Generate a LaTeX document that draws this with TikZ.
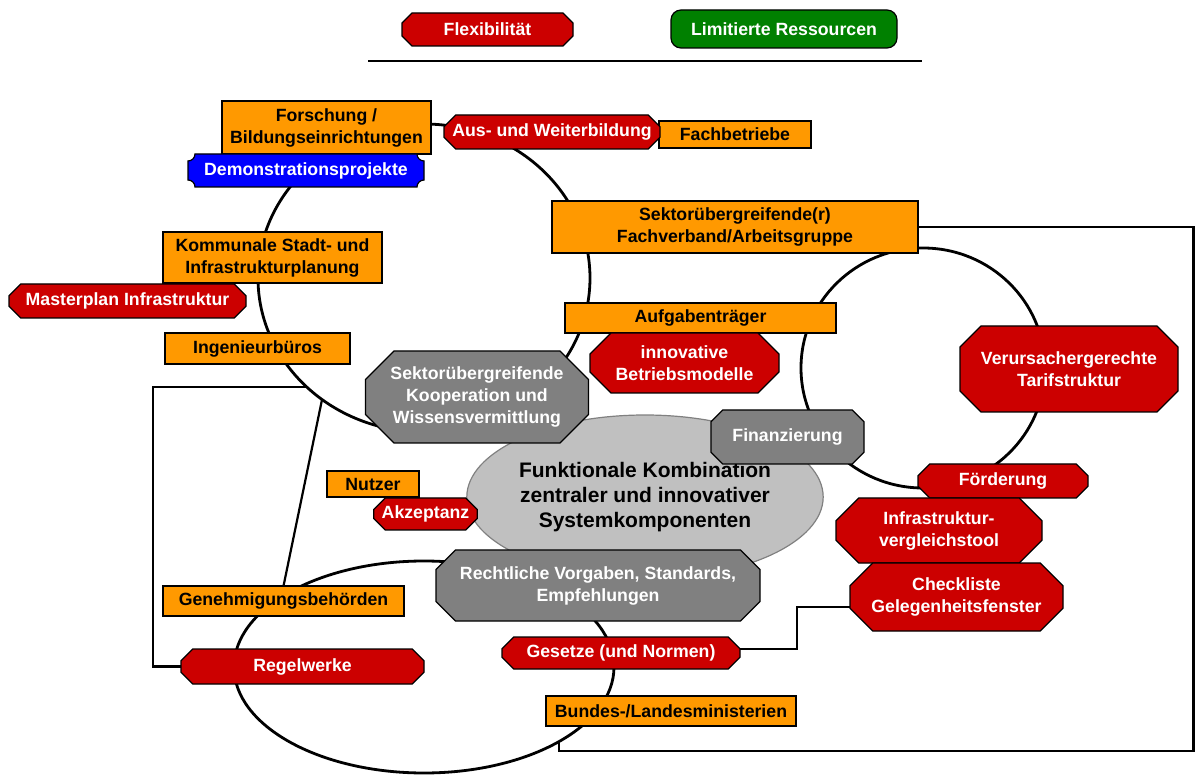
\documentclass[tikz,border=0pt]{standalone}
\usepackage{fontspec}
\setmainfont{Liberation Sans}
\usetikzlibrary{shapes.misc,shapes.geometric,calc}
\definecolor{cred}{HTML}{CC0000}
\definecolor{corange}{HTML}{FF9900}
\definecolor{cblue}{HTML}{0000FF}
\definecolor{cgreen}{HTML}{008000}
\definecolor{cgray}{HTML}{808080}
\definecolor{clight}{HTML}{C0C0C0}
\pgfdeclarelayer{bg}
\pgfsetlayers{bg,main}
\tikzset{
  lbl/.style={font=\fontsize{17.7}{22}\selectfont\bfseries, align=center, inner sep=0pt, outer sep=0pt},
  obox/.style={lbl, rectangle, draw=black, line width=1.2pt, fill=corange, text=black},
  oct/.style={lbl, chamfered rectangle, chamfered rectangle xsep=#1, draw=black, line width=1.2pt},
  redoct/.style={oct=#1, fill=cred, text=white},
  grayoct/.style={oct=#1, fill=cgray, text=white},
  ring/.style={ellipse, draw=black, line width=2.8pt, inner sep=0pt, outer sep=0pt},
  link/.style={draw=black, line width=2.2pt},
  sz/.style 2 args={minimum width=#1pt, minimum height=#2pt},
}
\begin{document}
\begin{tikzpicture}[x=1pt,y=-1pt]
\useasboundingbox (0,0) rectangle (1195,775);

% legend
\node[redoct=9pt, sz={171}{33}] (flex) at (487.5,29.5) {Flexibilität};
\node[lbl, rectangle, rounded corners=10pt, draw=black, line width=1.2pt, fill=cgreen, text=white, sz={226}{38}] (limres) at (784,29) {Limitierte Ressourcen};
\coordinate (ll) at (368,61);
\coordinate (lr) at (922,61);
\draw[link] (ll) -- (lr);

% central ellipse
\node[ellipse, draw=cgray, line width=1.2pt, fill=clight, inner sep=0pt, sz={356}{164},
      font=\fontsize{21}{25}\selectfont\bfseries, align=center] (core) at (645,497)
      {Funktionale Kombination\\zentraler und innovativer\\Systemkomponenten};

% orange boxes and other nodes
\node[obox, sz={209}{53}] (forsch) at (326.5,127.5) {Forschung /\\Bildungseinrichtungen};
\node[obox, sz={152}{27}] (fachb) at (735,134.5) {Fachbetriebe};
\node[redoct=9pt, sz={216}{34}] (ausw) at (552,132) {Aus- und Weiterbildung};
\node[obox, sz={366}{52}] (sektor) at (735,227) {Sektorübergreifende(r)\\Fachverband/Arbeitsgruppe};
\node[obox, sz={219}{51}] (kommunal) at (272.5,257.5) {Kommunale Stadt- und\\Infrastrukturplanung};
\node[redoct=9pt, sz={237}{34}] (master) at (127.5,301) {Masterplan Infrastruktur};
\node[obox, sz={271}{30}] (aufg) at (700.5,318) {Aufgabenträger};
\node[obox, sz={185}{31}] (ingen) at (257.5,348.5) {Ingenieurbüros};
\node[redoct=18pt, sz={189}{60}] (innov) at (684.5,363) {innovative\\Betriebsmodelle};
\node[redoct=25pt, sz={218}{86}] (verurs) at (1069,369) {Verursachergerechte\\Tarifstruktur};
\node[grayoct=25pt, sz={220}{92}] (koop) at (477,397) {Sektorübergreifende\\Kooperation und\\Wissensvermittlung};
\node[grayoct=14pt, sz={153}{54}] (finanz) at (787.5,437) {Finanzierung};
\node[redoct=9pt, sz={170}{34}] (foerd) at (1003,481) {Förderung};
\node[obox, sz={92}{26}] (nutzer) at (373,484) {Nutzer};
\node[redoct=8pt, sz={103}{32}] (akz) at (425.5,514) {Akzeptanz};
\node[redoct=20pt, sz={206}{65}] (vergl) at (939,530.5) {Infrastruktur-\\vergleichstool};
\node[grayoct=16pt, sz={324}{71}] (recht) at (598,585.5) {Rechtliche Vorgaben, Standards,\\Empfehlungen};
\node[redoct=22pt, sz={213}{68}] (checkl) at (956.5,597) {Checkliste\\Gelegenheitsfenster};
\node[obox, sz={241}{30}] (genehm) at (283.5,601) {Genehmigungsbehörden};
\node[redoct=9pt, sz={238}{32}] (gesetze) at (621,653) {Gesetze (und Normen)};
\node[redoct=9pt, sz={243}{35}] (regelw) at (302.5,666.5) {Regelwerke};
\node[obox, sz={250}{30}] (bundes) at (671,711) {Bundes-/Landesministerien};

% blue node with concave corners
\fill[cblue, draw=black, line width=1.2pt] (195,154) -- (417,154)
  .. controls (417,157.9) and (420.1,161) .. (424,161) -- (424,180)
  .. controls (420.1,180) and (417,183.1) .. (417,187) -- (195,187)
  .. controls (195,183.1) and (191.9,180) .. (188,180) -- (188,161)
  .. controls (191.9,161) and (195,157.9) .. (195,154) -- cycle;
\node[lbl, text=white] (demo) at (306,170.5) {Demonstrationsprojekte};

\begin{pgfonlayer}{bg}
  \node[ring, sz={332}{308}] (c1) at (424,278) {};
  \node[ring, sz={244}{240}] (c2) at (923,368) {};
  \node[ring, sz={380}{212}] (c3) at (424,667) {};
  \coordinate (lbx) at (153,0);
  \coordinate (rbx) at (1193.5,751);
  \draw[link] (c1.223) -| (lbx |- regelw.west) -- (regelw.west);
  \draw[link] (c1.230) -- (genehm.north);
  \draw[link] (sektor.east) -| (rbx) -| (c3.331);
  \draw[link] ($(gesetze.east)+(0,-4)$) -| ($(checkl.west)+(-53,10)$) -- ($(checkl.west)+(0,10)$);
\end{pgfonlayer}
\end{tikzpicture}
\end{document}
